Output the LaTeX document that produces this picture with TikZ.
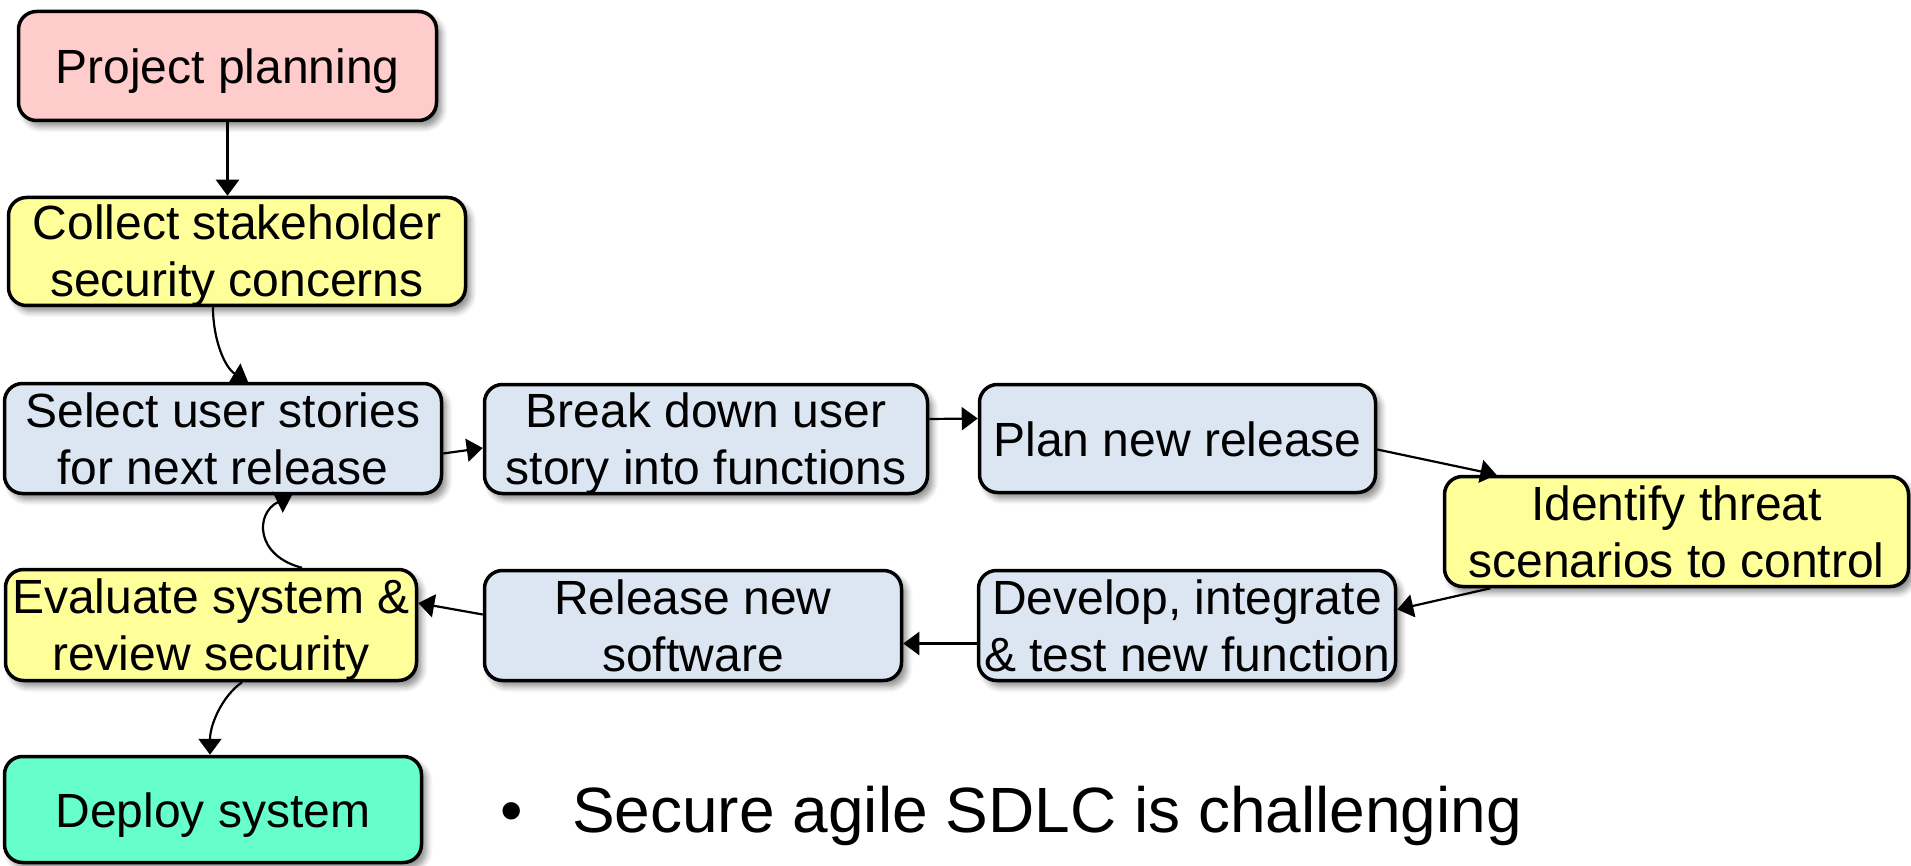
\documentclass[tikz,border=0pt]{standalone}
\usepackage{fontspec}
\setmainfont{Liberation Sans}
\usetikzlibrary{arrows.meta,shadows.blur}
\definecolor{pinkbox}{HTML}{FFCCCC}
\definecolor{yellowbox}{HTML}{FFFF99}
\definecolor{bluebox}{HTML}{DCE6F2}
\definecolor{greenbox}{HTML}{66FFCC}
\newcommand{\boxone}[1]{\raisebox{-17.5pt}[0pt][0pt]{#1}}
\newcommand{\boxtwo}[2]{\raisebox{11.5pt}[0pt][0pt]{\begin{tabular}[t]{@{}c@{}}#1\\#2\end{tabular}}}
\begin{document}
\begin{tikzpicture}[x=1pt,y=-1pt,
  box/.style={draw=black, line width=3.5pt, rounded corners=18pt,
    inner sep=0pt, font=\fontsize{48}{57}\selectfont,
    blur shadow={shadow xshift=5pt, shadow yshift=-6pt, shadow blur radius=6pt,
      shadow blur steps=6, shadow opacity=45}},
  conn/.style={line width=2.2pt, -{Triangle[length=16pt,width=23pt]}}]
\useasboundingbox (0,0) rectangle (1911,866);

\node[box, fill=pinkbox, minimum width=418, minimum height=109] (pp) at (227.5,66) {\boxone{Project planning}};
\node[box, fill=yellowbox, minimum width=457, minimum height=108] (collect) at (237,251.5) {\boxtwo{Collect stakeholder}{security concerns}};
\node[box, fill=bluebox, minimum width=437, minimum height=110] (select) at (223,438.5) {\boxtwo{Select user stories}{for next release}};
\node[box, fill=bluebox, minimum width=443, minimum height=109] (break) at (706,439) {\boxtwo{Break down user}{story into functions}};
\node[box, fill=bluebox, minimum width=396, minimum height=108] (plannew) at (1177.5,438.5) {\boxone{Plan new release}};
\node[box, fill=yellowbox, minimum width=464, minimum height=110] (identify) at (1676.5,531.5) {\boxtwo{Identify threat}{scenarios to control}};
\node[box, fill=bluebox, minimum width=417, minimum height=110] (develop) at (1187,625.5) {\boxtwo{Develop, integrate}{\&~test new function}};
\node[box, fill=bluebox, minimum width=417, minimum height=110] (release) at (693,625.5) {\boxtwo{Release new}{software}};
\node[box, fill=yellowbox, minimum width=411, minimum height=111] (evaluate) at (211,625) {\boxtwo{Evaluate system \&}{review security}};
\node[box, fill=greenbox, minimum width=417, minimum height=106] (deploy) at (213,809.5) {\boxone{Deploy system}};

\node[anchor=base west, inner sep=0pt, font=\fontsize{64}{70}\selectfont] (bullet) at (500,832)
  {\makebox[72pt][l]{•}Secure agile SDLC is challenging};

\draw[conn] (pp.south) -- (pp.south |- collect.north);
\draw[conn] ([xshift=-24pt]collect.south) .. controls +(0,33) and +(-23,-14) .. ([xshift=25pt]select.north);
\draw[conn] ([yshift=-15pt]select.east) -- ([yshift=-9pt]break.west);
\draw[conn] ([yshift=20pt]break.east) -- ([yshift=20pt]plannew.west);
\draw[conn] ([yshift=-11pt]plannew.east) -- ([xshift=-180pt]identify.north);
\draw[conn] ([xshift=-186pt]identify.south) -- ([yshift=16pt]develop.east);
\draw[conn] ([yshift=-18pt]develop.west) -- ([yshift=-18pt]release.east);
\draw[conn] ([yshift=11pt]release.west) -- ([yshift=22pt]evaluate.east);
\draw[conn] ([xshift=91pt]evaluate.north) .. controls +(-47,-12) and +(-37,18) .. ([xshift=69pt]select.south);
\draw[conn] ([xshift=31pt]evaluate.south) .. controls +(-20,14) and +(0,-30) .. ([xshift=-3pt]deploy.north);
\end{tikzpicture}
\end{document}
